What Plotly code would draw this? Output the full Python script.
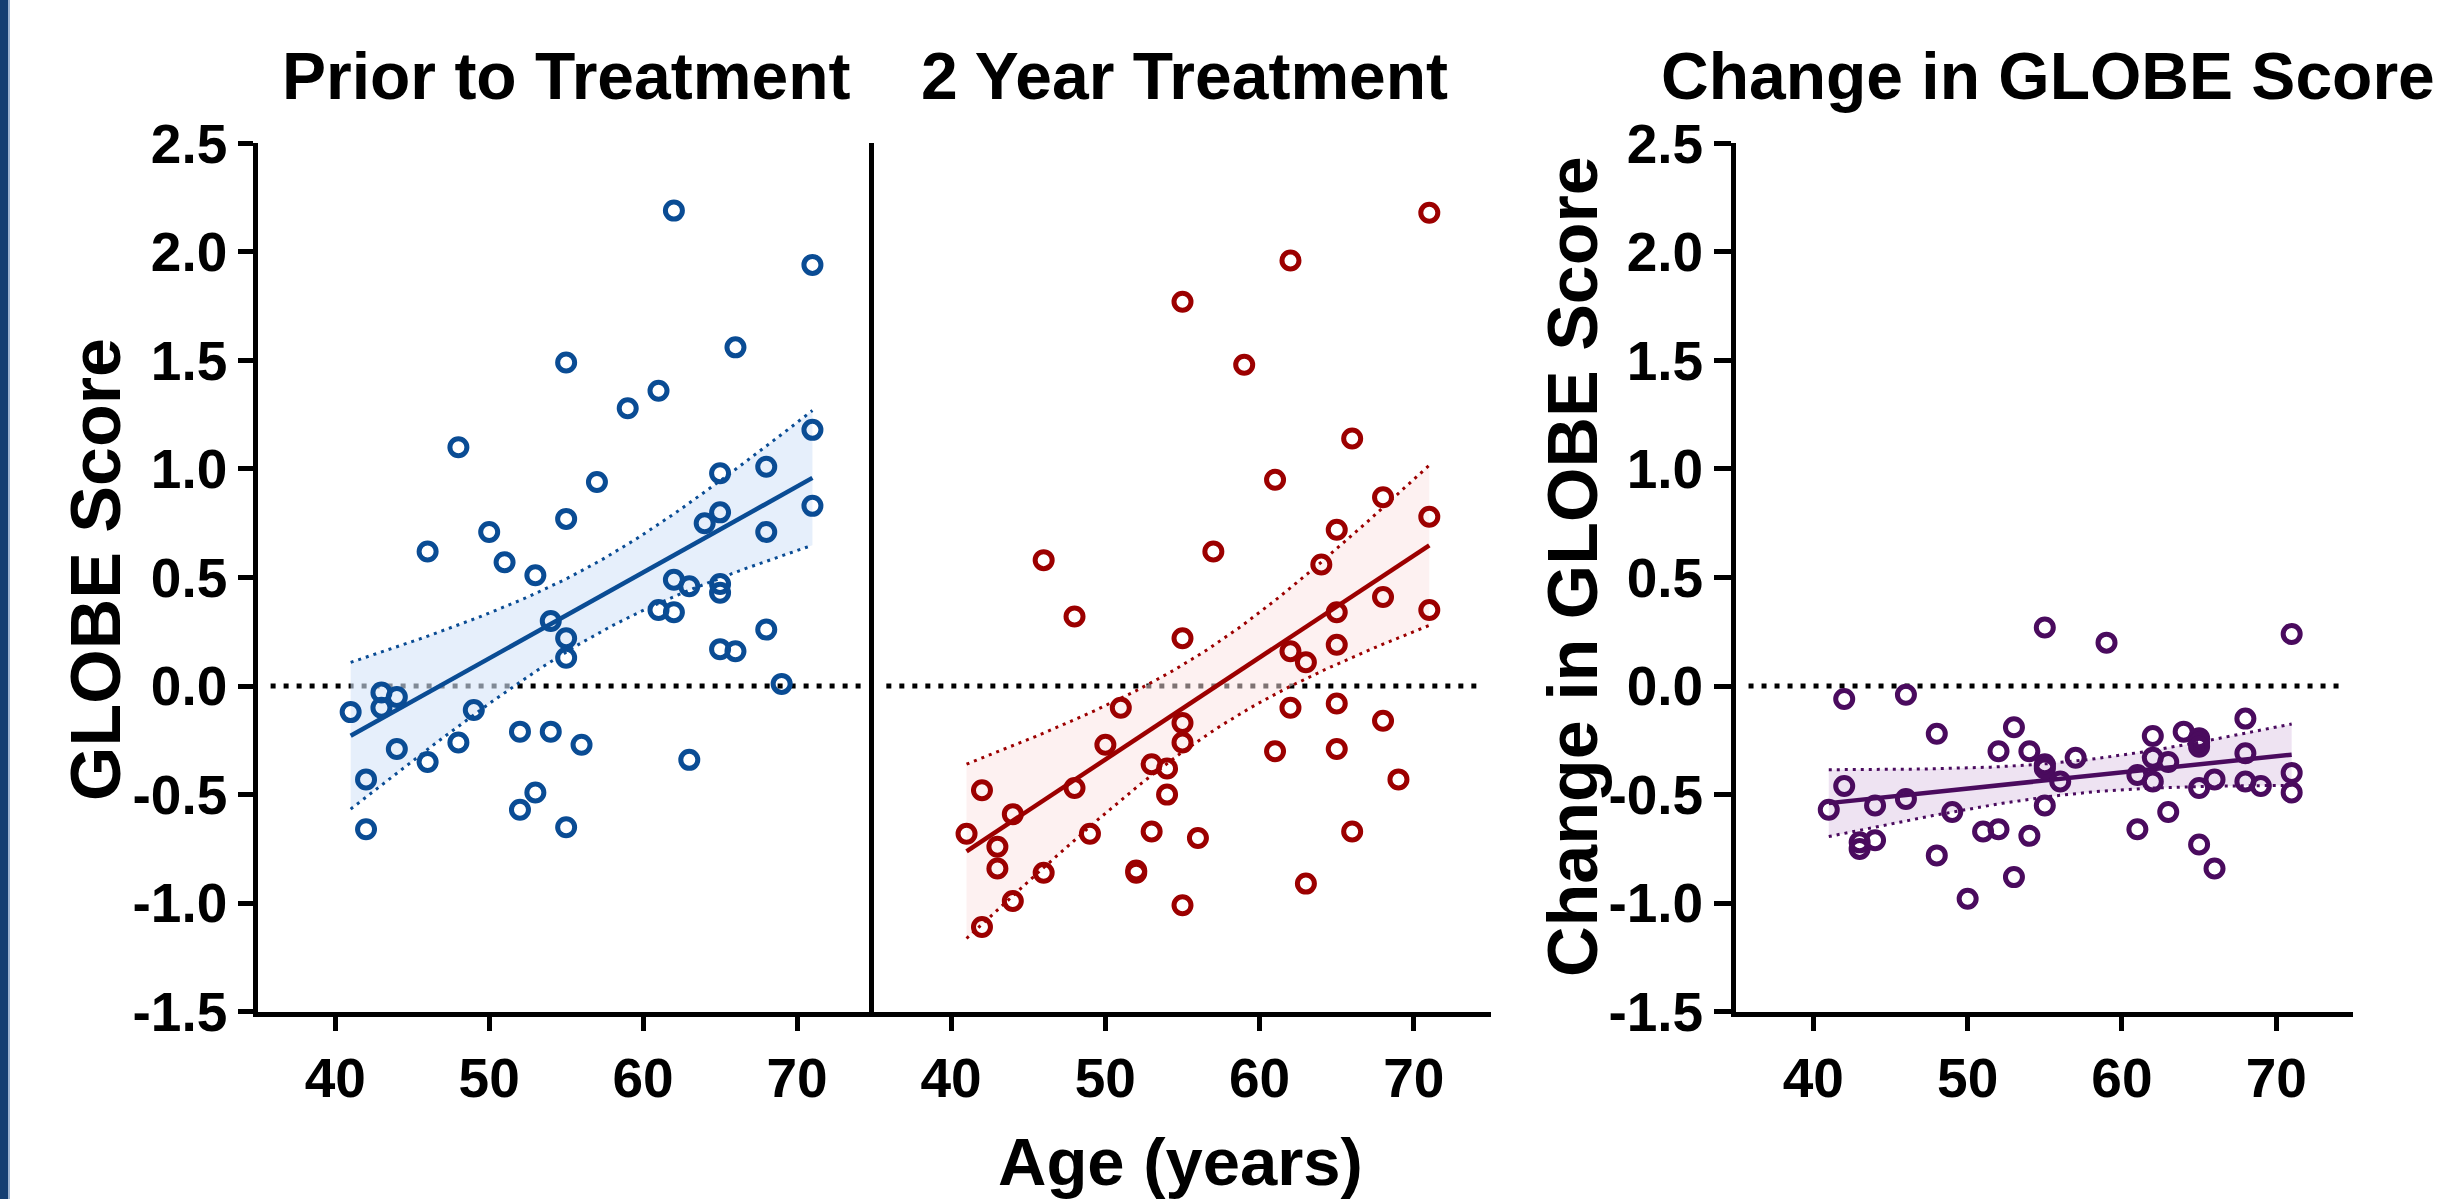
import numpy as np
import plotly.graph_objects as go

W, H = 2442, 1199

# ---- data -------------------------------------------------------------
age_prior = [62, 71, 66, 55, 61, 59, 48, 71, 68, 65, 57, 71, 65, 64, 55, 50, 68, 46, 51, 53,
             62, 63, 65, 65, 61, 62, 54, 55, 55, 65, 66, 68, 69, 43, 44, 43, 41, 49, 44, 46,
             48, 42, 42, 52, 54, 56, 53, 52, 55, 63]
globe_prior = [2.19, 1.94, 1.56, 1.49, 1.36, 1.28, 1.10, 1.18, 1.01, 0.98, 0.94, 0.83, 0.80, 0.75,
               0.77, 0.71, 0.71, 0.62, 0.57, 0.51, 0.49, 0.46, 0.47, 0.43, 0.35, 0.34, 0.30, 0.22,
               0.13, 0.17, 0.16, 0.26, 0.01, -0.03, -0.05, -0.10, -0.12, -0.11, -0.29, -0.35,
               -0.26, -0.43, -0.66, -0.21, -0.21, -0.27, -0.49, -0.57, -0.65, -0.34]

age_2yr = [71, 62, 55, 59, 66, 61, 68, 65, 71, 57, 46, 64, 48, 68, 71, 65, 55, 65, 62, 63,
           51, 62, 65, 68, 55, 55, 50, 61, 65, 53, 54, 48, 42, 69, 54, 44, 41, 49, 53, 56,
           66, 43, 43, 46, 52, 52, 63, 44, 55, 42]
globe_2yr = [2.18, 1.96, 1.77, 1.48, 1.14, 0.95, 0.87, 0.72, 0.78, 0.62, 0.58, 0.56, 0.32, 0.41,
             0.35, 0.34, 0.22, 0.19, 0.16, 0.11, -0.10, -0.10, -0.08, -0.16, -0.17, -0.26, -0.27,
             -0.30, -0.29, -0.36, -0.38, -0.47, -0.48, -0.43, -0.50, -0.59, -0.68, -0.68, -0.67,
             -0.70, -0.67, -0.74, -0.84, -0.86, -0.85, -0.86, -0.91, -0.99, -1.01, -1.11]

age_change = [55, 59, 71, 42, 46, 48, 53, 68, 64, 62, 65, 65, 65, 52, 54, 57, 68, 62, 63, 55,
              55, 55, 61, 56, 62, 71, 66, 68, 69, 65, 42, 71, 46, 44, 41, 55, 49, 63, 52, 51,
              54, 61, 43, 43, 44, 65, 48, 66, 53, 50]
globe_change = [0.27, 0.20, 0.24, -0.06, -0.04, -0.22, -0.19, -0.15, -0.21, -0.23, -0.24, -0.26,
                -0.28, -0.30, -0.30, -0.33, -0.31, -0.33, -0.35, -0.36, -0.37, -0.38, -0.41,
                -0.44, -0.44, -0.40, -0.43, -0.44, -0.46, -0.47, -0.46, -0.49, -0.52, -0.55,
                -0.57, -0.55, -0.58, -0.58, -0.66, -0.67, -0.69, -0.66, -0.72, -0.75, -0.71,
                -0.73, -0.78, -0.84, -0.88, -0.98]

panel_titles = ["Prior to Treatment", "2 Year Treatment", "Change in GLOBE Score"]
x_ticks = [40, 50, 60, 70]
y_ticks = [-1.5, -1.0, -0.5, 0.0, 0.5, 1.0, 1.5, 2.0, 2.5]
y_tick_text = ["-1.5", "-1.0", "-0.5", "0.0", "0.5", "1.0", "1.5", "2.0", "2.5"]

# ---- styling ------------------------------------------------------------
FONT = "Liberation Sans, Arial, Helvetica, sans-serif"
panels = [
    dict(x=age_prior, y=globe_prior, color="#0a4c94", fill="rgba(214,229,248,0.6)", xa="x", ya="y"),
    dict(x=age_2yr, y=globe_2yr, color="#9c0000", fill="rgba(251,228,228,0.5)", xa="x2", ya="y2"),
    dict(x=age_change, y=globe_change, color="#4a0b5e", fill="rgba(226,208,234,0.6)", xa="x3", ya="y3"),
]


def px_x(p):
    return p / W


def px_y(p):
    return 1 - p / H


def regression_band(x, y, n_grid=81, t_crit=2.0106):
    """Least-squares line with its 95% confidence band for the mean."""
    x = np.asarray(x, float)
    y = np.asarray(y, float)
    n = len(x)
    slope, intercept = np.polyfit(x, y, 1)
    resid = y - (intercept + slope * x)
    s = np.sqrt(np.sum(resid ** 2) / (n - 2))
    xbar = x.mean()
    sxx = np.sum((x - xbar) ** 2)
    grid = np.linspace(x.min(), x.max(), n_grid)
    fit = intercept + slope * grid
    half = t_crit * s * np.sqrt(1.0 / n + (grid - xbar) ** 2 / sxx)
    return grid, fit, fit - half, fit + half


fig = go.Figure()

for p in panels:
    grid, fit, lo, hi = regression_band(p["x"], p["y"])
    # shaded confidence band
    fig.add_trace(go.Scatter(
        x=np.concatenate([grid, grid[::-1]]), y=np.concatenate([hi, lo[::-1]]),
        fill="toself", fillcolor=p["fill"], line=dict(width=0), mode="lines",
        xaxis=p["xa"], yaxis=p["ya"], hoverinfo="skip", showlegend=False))
    # dotted band edges
    for edge in (hi, lo):
        fig.add_trace(go.Scatter(
            x=grid, y=edge, mode="lines",
            line=dict(color=p["color"], width=3, dash="3px,5px"),
            xaxis=p["xa"], yaxis=p["ya"], hoverinfo="skip", showlegend=False))
    # fitted line
    fig.add_trace(go.Scatter(
        x=grid, y=fit, mode="lines", line=dict(color=p["color"], width=4.5),
        xaxis=p["xa"], yaxis=p["ya"], hoverinfo="skip", showlegend=False))
    # observations
    fig.add_trace(go.Scatter(
        x=p["x"], y=p["y"], mode="markers",
        marker=dict(symbol="circle-open", size=17, color=p["color"],
                    line=dict(width=5, color=p["color"])),
        xaxis=p["xa"], yaxis=p["ya"], showlegend=False))

# zero reference lines
for xa, ya in (("x", "y"), ("x2", "y2"), ("x3", "y3")):
    fig.add_shape(type="line", xref=xa, yref=ya, x0=35.8, x1=74.5, y0=0, y1=0,
                  line=dict(color="black", width=5, dash="5px,8px"), layer="below")

# ---- axes ---------------------------------------------------------------
y_top, y_bot = 143.3, 1011.7
ydom = [px_y(y_bot), px_y(y_top)]
x_domains = [(258.3, 874.0), (874.0, 1491.0), (1736.2, 2353.4)]

tick_font = dict(family=FONT, size=55, color="black", weight="bold")
common_x = dict(range=[35, 75], tickvals=x_ticks, ticks="outside", ticklen=14, tickwidth=5,
                tickcolor="black", showline=True, linewidth=5, linecolor="black",
                showgrid=False, zeroline=False, tickfont=tick_font, fixedrange=True,
                automargin=False)
common_y = dict(range=[-1.5, 2.5], domain=ydom, showline=True, linewidth=5, linecolor="black",
                showgrid=False, zeroline=False, fixedrange=True, automargin=False)

layout_axes = {}
for i, (a, b) in enumerate(x_domains):
    key = "xaxis" if i == 0 else f"xaxis{i + 1}"
    yname = "y" if i == 0 else f"y{i + 1}"
    layout_axes[key] = dict(common_x, domain=[px_x(a), px_x(b)], anchor=yname)

layout_axes["yaxis"] = dict(common_y, anchor="x", tickvals=y_ticks, ticktext=y_tick_text,
                            ticks="outside", ticklen=15, tickwidth=5, tickcolor="black",
                            tickfont=tick_font)
layout_axes["yaxis2"] = dict(common_y, anchor="x2", ticks="", showticklabels=False)
layout_axes["yaxis3"] = dict(common_y, anchor="x3", tickvals=y_ticks, ticktext=y_tick_text,
                             ticks="outside", ticklen=17, tickwidth=5, tickcolor="black",
                             tickfont=tick_font)

fig.update_layout(
    template="none",
    width=W, height=H, autosize=False,
    margin=dict(l=0, r=0, t=0, b=0, pad=0, autoexpand=False),
    paper_bgcolor="white", plot_bgcolor="rgba(0,0,0,0)",
    showlegend=False, font=dict(family=FONT, color="black"),
    **layout_axes,
)

# ---- text ---------------------------------------------------------------
def label(text, xp, yp, size, angle=0):
    fig.add_annotation(text=text, x=px_x(xp), y=px_y(yp), xref="paper", yref="paper",
                       xanchor="center", yanchor="middle", showarrow=False, textangle=angle,
                       font=dict(family=FONT, size=size, color="black", weight="bold"))


label(panel_titles[0], 566, 76, 66)
label(panel_titles[1], 1184, 76, 66)
label(panel_titles[2], 2048, 76, 66)
label("GLOBE Score", 96, 570, 70, angle=-90)
label("Change in GLOBE Score", 1573, 567, 70, angle=-90)
label("Age (years)", 1180, 1161, 67)

# slide frame on the left edge
fig.add_shape(type="rect", xref="paper", yref="paper", x0=0, x1=px_x(8), y0=0, y1=1,
              fillcolor="#143e72", line=dict(width=0))
fig.add_shape(type="rect", xref="paper", yref="paper", x0=px_x(8), x1=px_x(10), y0=0, y1=1,
              fillcolor="#9db3d0", line=dict(width=0))

fig.write_html("out.html")
